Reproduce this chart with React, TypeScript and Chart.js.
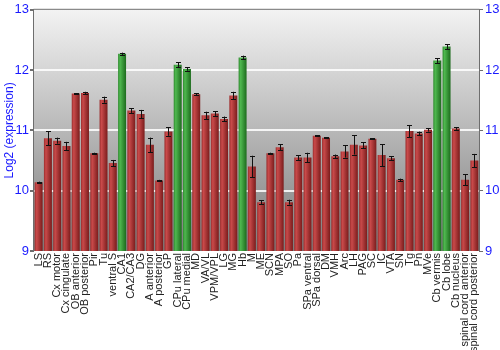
import React, { useEffect, useRef } from "react";
import { Chart, registerables } from "chart.js";

Chart.register(...registerables);

const categories = [
  "LS", "RS", "Cx motor", "Cx cingulate", "OB anterior", "OB posterior", "Pir", "Tu",
  "ventral S", "CA1", "CA2/CA3", "DG", "A anterior", "A posterior", "GP", "CPu lateral",
  "CPu medial", "MD", "VA/VL", "VPM/VPL", "LG", "MG", "Hb", "M", "ME", "SCN", "MPA", "SO",
  "Pa", "SPa ventral", "SPa dorsal", "DM", "VMH", "Arc", "LH", "PAG", "SC", "IC", "VTA",
  "SN", "Tg", "Pn", "MVe", "Cb vermis", "Cb lobe", "Cb nucleus", "spinal cord anterior",
  "spinal cord posterior",
];

const values = [
  10.14, 10.87, 10.83, 10.74, 11.61, 11.62, 10.62, 11.51,
  10.46, 12.27, 11.33, 11.27, 10.76, 10.17, 10.98, 12.09,
  12.02, 11.6, 11.25, 11.28, 11.19, 11.58, 12.21, 10.4, 9.81, 10.62, 10.72, 9.81,
  10.55, 10.55, 10.91, 10.88, 10.57, 10.65, 10.76, 10.75, 10.86, 10.59, 10.54,
  10.18, 10.99, 10.95, 11.01, 12.16, 12.39, 11.03, 10.18,
  10.5,
];

const errors = [
  0.01, 0.12, 0.05, 0.07, 0.01, 0.02, 0.01, 0.05,
  0.05, 0.02, 0.04, 0.07, 0.12, 0.01, 0.07, 0.04,
  0.03, 0.02, 0.06, 0.04, 0.04, 0.06, 0.03, 0.18, 0.03, 0.01, 0.05, 0.04,
  0.04, 0.08, 0.01, 0.01, 0.03, 0.1, 0.16, 0.05, 0.01, 0.18, 0.03,
  0.02, 0.1, 0.03, 0.03, 0.04, 0.04, 0.02, 0.09,
  0.11,
];

const highlighted = ["CA1", "CPu lateral", "CPu medial", "Hb", "Cb vermis", "Cb lobe"];

const yTicks = [9, 10, 11, 12, 13];

const BAR_PCT = 0.86;

const bgPlugin = {
  id: "bgGradient",
  beforeDraw(chart: any) {
    const { ctx, chartArea: a } = chart;
    if (!a) return;
    const g = ctx.createLinearGradient(0, a.top, 0, a.bottom);
    g.addColorStop(0, "#f3f3f3");
    g.addColorStop(1, "#7c7c7c");
    ctx.save();
    ctx.fillStyle = g;
    ctx.fillRect(a.left, a.top, a.right - a.left, a.bottom - a.top);
    ctx.restore();
  },
  afterDraw(chart: any) {
    const { ctx, chartArea: a } = chart;
    ctx.save();
    ctx.strokeStyle = "#6e6e6e";
    ctx.lineWidth = 1;
    ctx.beginPath();
    ctx.moveTo(a.left - 0.5, a.bottom);
    ctx.lineTo(a.left - 0.5, a.top - 0.5);
    ctx.lineTo(a.right + 0.5, a.top - 0.5);
    ctx.lineTo(a.right + 0.5, a.bottom);
    ctx.stroke();
    ctx.restore();
  },
};

const errPlugin = {
  id: "errBars",
  afterDatasetsDraw(chart: any) {
    const { ctx } = chart;
    const xs = chart.scales.x;
    const y = chart.scales.y;
    ctx.save();
    ctx.strokeStyle = "#111";
    ctx.lineWidth = 1;
    values.forEach((v, i) => {
      const e = errors[i];
      const x = Math.round(xs.getPixelForValue(i)) + 0.5;
      const y1 = y.getPixelForValue(v + e);
      const y2 = y.getPixelForValue(v - e);
      ctx.beginPath();
      ctx.moveTo(x, y1);
      ctx.lineTo(x, y2);
      ctx.moveTo(x - 2.5, Math.round(y1) + 0.5);
      ctx.lineTo(x + 2.5, Math.round(y1) + 0.5);
      ctx.moveTo(x - 2.5, Math.round(y2) + 0.5);
      ctx.lineTo(x + 2.5, Math.round(y2) + 0.5);
      ctx.stroke();
    });
    ctx.restore();
  },
};

export default function App() {
  const ref = useRef<HTMLCanvasElement | null>(null);
  useEffect(() => {
    document.body.style.margin = "0";
    const canvas = ref.current;
    if (!canvas) return;
    const barColor = (c: any) => {
      const chart = c.chart;
      const i = c.dataIndex;
      const green = highlighted.includes(categories[i]);
      const fallback = green ? "#3a9a3a" : "#a53030";
      const xs = chart.scales && chart.scales.x;
      if (!xs || !chart.chartArea) return fallback;
      const cx = xs.getPixelForValue(i);
      const w = ((xs.right - xs.left) / categories.length) * BAR_PCT;
      if (!isFinite(cx) || !isFinite(w) || w <= 0) return fallback;
      const g = chart.ctx.createLinearGradient(cx - w / 2, 0, cx + w / 2, 0);
      if (green) {
        g.addColorStop(0, "#2f8a2f");
        g.addColorStop(0.25, "#4fb84f");
        g.addColorStop(1, "#1d6b1d");
      } else {
        g.addColorStop(0, "#9c2d2d");
        g.addColorStop(0.25, "#c94a4a");
        g.addColorStop(1, "#7a1c1c");
      }
      return g;
    };
    const chart = new Chart(canvas, {
      type: "bar",
      data: {
        labels: categories,
        datasets: [
          {
            data: values,
            backgroundColor: barColor,
            borderWidth: 0,
            categoryPercentage: 1,
            barPercentage: BAR_PCT,
          },
        ],
      },
      options: {
        animation: false,
        responsive: false,
        events: [],
        layout: { padding: { top: 9, left: 0, right: 0, bottom: 0 } },
        plugins: { legend: { display: false }, tooltip: { enabled: false } },
        scales: {
          x: {
            grid: { display: false, drawTicks: false },
            border: { display: false },
            ticks: {
              autoSkip: false,
              maxRotation: 90,
              minRotation: 90,
              padding: 2,
              color: "#222",
              font: { family: "Liberation Sans", size: 11 },
            },
            afterFit: (s: any) => {
              s.height = 99;
            },
          },
          y: {
            position: "left",
            min: 9,
            max: 13,
            afterBuildTicks: (s: any) => {
              s.ticks = yTicks.map((v) => ({ value: v }));
            },
            grid: {
              color: (c: any) =>
                c.tick && c.tick.value > 9 && c.tick.value < 13 ? "rgba(255,255,255,0.85)" : "rgba(0,0,0,0)",
              lineWidth: 2,
              tickColor: "#6e6e6e",
              tickLength: 4,
              drawTicks: true,
            },
            border: { display: false },
            ticks: {
              color: "#1a1aff",
              padding: 1,
              font: { family: "Liberation Sans", size: 13 },
            },
            title: {
              display: true,
              text: "Log2 (expression)",
              color: "#1a1aff",
              font: { family: "Liberation Sans", size: 12 },
              padding: { top: 2, bottom: 0 },
            },
            afterFit: (s: any) => {
              s.width = 34;
            },
          },
          y2: {
            position: "right",
            min: 9,
            max: 13,
            afterBuildTicks: (s: any) => {
              s.ticks = yTicks.map((v) => ({ value: v }));
            },
            grid: {
              drawOnChartArea: false,
              tickColor: "#6e6e6e",
              tickLength: 4,
            },
            border: { display: false },
            ticks: {
              color: "#1a1aff",
              padding: 2,
              font: { family: "Liberation Sans", size: 13 },
            },
            afterFit: (s: any) => {
              s.width = 21;
            },
          },
        },
      },
      plugins: [bgPlugin, errPlugin],
    });
    return () => chart.destroy();
  }, []);
  return (
    <div style={{ width: 500, height: 350 }}>
      <canvas ref={ref} width={500} height={350} />
    </div>
  );
}
